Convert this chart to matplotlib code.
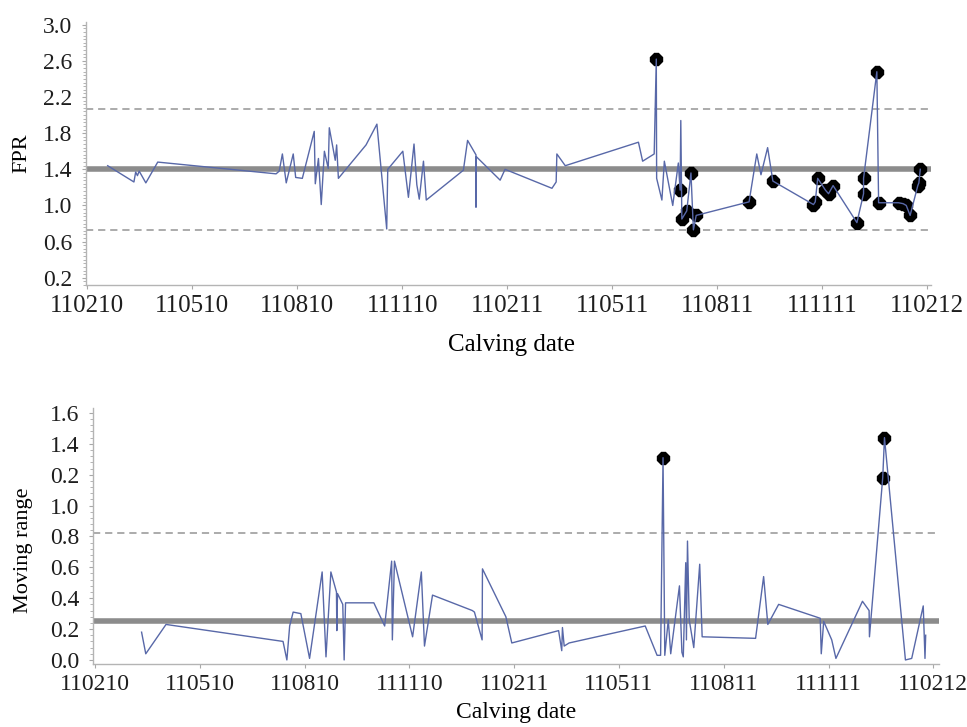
import numpy as np
import matplotlib
matplotlib.use('Agg')
import matplotlib.pyplot as plt
from matplotlib.ticker import MultipleLocator, FixedLocator

plt.rcParams['font.family'] = ['Liberation Serif', 'DejaVu Serif']

# calving date as months after 11 Feb 2010 (tick labels are DDMMYY)
date_ticks = [0, 3, 6, 9, 12, 15, 18, 21, 24]
date_labels = ['110210', '110510', '110810', '111110', '110211',
               '110511', '110811', '111111', '110212']

# individual FPR values
fpr_month = [0.59, 1.34, 1.39, 1.44, 1.49, 1.68, 2.02, 5.40, 5.49, 5.58,
             5.69, 5.89, 5.96, 6.15, 6.49, 6.52, 6.61, 6.69, 6.78, 6.89,
             6.92, 7.09, 7.13, 7.18, 7.97, 8.28, 8.56, 8.59, 9.02, 9.18,
             9.34, 9.42, 9.49, 9.61, 9.69, 10.75, 10.87, 11.11, 11.11, 11.12,
             11.80, 11.94, 13.28, 13.40, 13.42, 13.66, 15.75, 15.87, 16.20, 16.26,
             16.27, 16.42, 16.49, 16.73, 16.89, 16.94, 16.96, 16.99, 17.13, 17.25,
             17.32, 17.40, 18.91, 19.13, 19.25, 19.44, 19.59, 20.75, 20.80, 20.87,
             21.09, 21.18, 21.31, 21.99, 22.18, 22.18, 22.56, 22.61, 23.18, 23.31,
             23.40, 23.51, 23.73, 23.76, 23.80]
fpr = [1.44, 1.26, 1.37, 1.33, 1.38, 1.25, 1.48, 1.35, 1.38, 1.57,
       1.25, 1.57, 1.31, 1.30, 1.82, 1.24, 1.52, 1.01, 1.60, 1.41,
       1.86, 1.50, 1.67, 1.30, 1.67, 1.90, 0.74, 1.40, 1.60, 1.09,
       1.68, 1.23, 1.07, 1.49, 1.06, 1.39, 1.72, 1.56, 0.98, 1.54,
       1.28, 1.40, 1.19, 1.26, 1.57, 1.44, 1.70, 1.49, 1.57, 2.62,
       1.30, 1.06, 1.49, 1.00, 1.47, 1.17, 1.94, 0.85, 0.94, 1.36,
       0.73, 0.89, 1.04, 1.57, 1.34, 1.64, 1.27, 1.01, 1.04, 1.30,
       1.17, 1.13, 1.22, 0.81, 1.13, 1.30, 2.48, 1.03, 1.03, 1.02,
       1.00, 0.89, 1.22, 1.25, 1.40]
# points flagged as signals (0-based)
fpr_signal = [49, 55, 57, 58, 59, 60, 61, 62, 66, 67, 68, 69, 70, 71, 72,
              73, 74, 75, 76, 77, 78, 79, 80, 81, 82, 83, 84]
fpr_center, fpr_ucl, fpr_lcl = 1.40, 2.07, 0.73

# moving range
mr_month = [1.33, 1.45, 2.03, 5.38, 5.49, 5.57, 5.67, 5.89, 6.14, 6.50,
            6.61, 6.75, 6.91, 6.92, 6.94, 7.09, 7.13, 7.17, 7.98, 8.29,
            8.49, 8.51, 8.57, 9.09, 9.34, 9.43, 9.66, 10.80, 10.86, 11.08,
            11.09, 11.76, 11.93, 13.27, 13.36, 13.38, 13.43, 13.57, 15.75, 16.09,
            16.19, 16.26, 16.31, 16.41, 16.48, 16.73, 16.80, 16.84, 16.91, 16.93,
            16.96, 17.01, 17.14, 17.31, 17.38, 18.91, 19.14, 19.26, 19.57, 20.76,
            20.79, 20.86, 21.09, 21.21, 21.97, 22.16, 22.17, 22.55, 22.60, 23.20,
            23.38, 23.71, 23.76, 23.78]
mr = [0.18, 0.04, 0.23, 0.12, 0.00, 0.22, 0.31, 0.30, 0.01, 0.57,
      0.02, 0.57, 0.44, 0.19, 0.43, 0.36, 0.00, 0.37, 0.37, 0.22,
      0.64, 0.13, 0.64, 0.15, 0.57, 0.09, 0.42, 0.32, 0.31, 0.13,
      0.59, 0.28, 0.11, 0.19, 0.06, 0.21, 0.09, 0.11, 0.22, 0.03,
      0.03, 1.31, 0.03, 0.26, 0.04, 0.48, 0.05, 0.02, 0.63, 0.13,
      0.77, 0.26, 0.08, 0.62, 0.15, 0.14, 0.54, 0.23, 0.36, 0.27,
      0.04, 0.25, 0.13, 0.01, 0.38, 0.32, 0.15, 1.18, 1.44, 0.00,
      0.01, 0.35, 0.01, 0.16]
mr_signal = [41, 67, 68]
mr_center, mr_ucl = 0.25, 0.82

fpr_yticks = [0.2, 0.6, 1.0, 1.4, 1.8, 2.2, 2.6, 3.0]
mr_yticks = [0.0, 0.2, 0.4, 0.6, 0.8, 1.0, 1.2, 1.4, 1.6]
mr_ylabels = ['0.0', '0.2', '0.4', '0.6', '0.8', '1.0', '0.2', '1.4', '1.6']

line_c = '#5868a8'
grey = '#8c8c8c'


def style_axes(ax, xsize):
    for s in ['top', 'right']:
        ax.spines[s].set_visible(False)
    for s in ['left', 'bottom']:
        ax.spines[s].set_color('#b4b4b4')
        ax.spines[s].set_linewidth(1.0)
    ax.tick_params(axis='both', which='both', colors='#a8a8a8',
                   labelcolor='#1e1e1e', labelsize=17, direction='out')
    ax.tick_params(axis='x', length=3, pad=4, labelsize=xsize)
    ax.tick_params(axis='y', which='major', length=3, pad=7)
    ax.tick_params(axis='y', which='minor', length=2)
    ax.xaxis.set_major_locator(FixedLocator(date_ticks))
    ax.set_xticklabels(date_labels)
    ax.yaxis.set_minor_locator(MultipleLocator(0.04))


fig = plt.figure(figsize=(9.67, 7.27), dpi=100)

# FPR chart
ax1 = fig.add_axes([0.0889, 0.608, 0.874, 0.3617])
ax1.axhline(fpr_center, color=grey, lw=4.0, zorder=1)
for lim in (fpr_ucl, fpr_lcl):
    ax1.axhline(lim, color='#a5a5a5', lw=1.3, dashes=(4, 2.7), zorder=1)
fpr_m = np.array(fpr_month)
fpr_v = np.array(fpr)
ax1.plot(fpr_m[fpr_signal], fpr_v[fpr_signal], ls='none', marker='8',
         ms=9, color='black', zorder=2)
ax1.plot(fpr_m, fpr_v, color=line_c, lw=1.0, zorder=3)
style_axes(ax1, 18)
ax1.set_xlim(-0.03, 24.11)
ax1.set_ylim(0.12, 3.03)
ax1.set_yticks(fpr_yticks)
ax1.set_yticklabels([f'{t:.1f}' for t in fpr_yticks])
ax1.set_ylabel('FPR', fontsize=16)
ax1.yaxis.set_label_coords(-0.065, 0.5)
ax1.set_xlabel('Calving date', fontsize=18)
ax1.xaxis.set_label_coords(0.504, -0.185)

# moving range chart
ax2 = fig.add_axes([0.0962, 0.0867, 0.8748, 0.3521])
ax2.axhline(mr_center, color=grey, lw=4.0, zorder=1)
ax2.axhline(mr_ucl, color='#a5a5a5', lw=1.3, dashes=(4, 2.7), zorder=1)
mr_m = np.array(mr_month)
mr_v = np.array(mr)
ax2.plot(mr_m[mr_signal], mr_v[mr_signal], ls='none', marker='8',
         ms=9, color='black', zorder=2)
ax2.plot(mr_m, mr_v, color=line_c, lw=1.0, zorder=3)
style_axes(ax2, 17)
ax2.set_xlim(-0.06, 24.16)
ax2.set_ylim(-0.026, 1.632)
ax2.set_yticks(mr_yticks)
ax2.set_yticklabels(mr_ylabels)
ax2.set_ylabel('Moving range', fontsize=16)
ax2.yaxis.set_label_coords(-0.071, 0.445)
ax2.set_xlabel('Calving date', fontsize=17)
ax2.xaxis.set_label_coords(0.5, -0.148)

fig.savefig('out.png', dpi=100)
